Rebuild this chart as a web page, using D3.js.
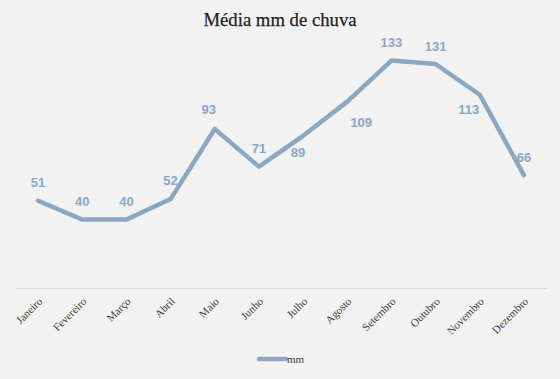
<!DOCTYPE html>
<html><head><meta charset="utf-8">
<script src="https://cdn.jsdelivr.net/npm/d3@7/dist/d3.min.js"></script>
<style>html,body{margin:0;padding:0;background:#f2f2f2;}</style>
</head><body>
<script>
const months = ["Janeiro","Fevereiro","Março","Abril","Maio","Junho","Julho","Agosto","Setembro","Outubro","Novembro","Dezembro"];
const mm = [51,40,40,52,93,71,89,109,133,131,113,66];
const seriesName = "mm";
const title = "Média mm de chuva";
// label offsets (layout only)
const labelOffsets = [[0,-19],[0,-19],[0,-19],[0,-19],[-6,-20],[0,-19],[-5,16],[14,20],[0,-19],[0,-18],[-11,14],[0,-18]];

const W=560,H=379;
const svg=d3.select("body").append("svg").attr("width",W).attr("height",H);
svg.append("rect").attr("width",W).attr("height",H).attr("fill","#f2f2f2");

const x=d3.scaleBand().domain(months).range([16,546]);
const y=d3.scaleLinear().domain([0,140]).range([288,48.6]);
const cx=d=>x(d)+x.bandwidth()/2;

svg.append("text").attr("x",280).attr("y",26).attr("text-anchor","middle")
  .attr("font-family","'Liberation Serif',serif").attr("font-size",18.7).attr("fill","#1f1f1f")
  .attr("stroke","#1f1f1f").attr("stroke-width",0.25).text(title);

// axis
const ax=svg.append("g").attr("transform","translate(0,288)")
  .call(d3.axisBottom(x).tickSize(0).tickPadding(0));
ax.select(".domain").attr("stroke","#d9d9d9").attr("stroke-width",1);
ax.selectAll(".tick text")
  .attr("font-family","'Liberation Serif',serif").attr("font-size",11).attr("fill","#404040")
  .attr("text-anchor","end").attr("dy",0)
  .attr("transform","translate(5,14) rotate(-45)");

const line=d3.line().x((d,i)=>cx(months[i])).y(d=>y(d));
svg.append("path").datum(mm).attr("d",line).attr("fill","none")
  .attr("stroke","#8ba7c2").attr("stroke-width",4.5).attr("stroke-linejoin","round").attr("stroke-linecap","round");

svg.selectAll(".lbl").data(mm).enter().append("text")
  .attr("x",(d,i)=>cx(months[i])+labelOffsets[i][0])
  .attr("y",(d,i)=>y(d)+labelOffsets[i][1]+5)
  .attr("text-anchor","middle")
  .attr("font-family","'Liberation Sans',Arial,sans-serif").attr("font-weight","bold").attr("font-size",13)
  .attr("fill","#8ba7c2").text(d=>d);

// legend
svg.append("line").attr("x1",259).attr("x2",286).attr("y1",359).attr("y2",359)
  .attr("stroke","#8ba7c2").attr("stroke-width",4.5).attr("stroke-linecap","round");
svg.append("text").attr("x",287).attr("y",363).attr("font-family","'Liberation Serif',serif")
  .attr("font-size",11).attr("fill","#404040").text(seriesName);
</script>
</body></html>
